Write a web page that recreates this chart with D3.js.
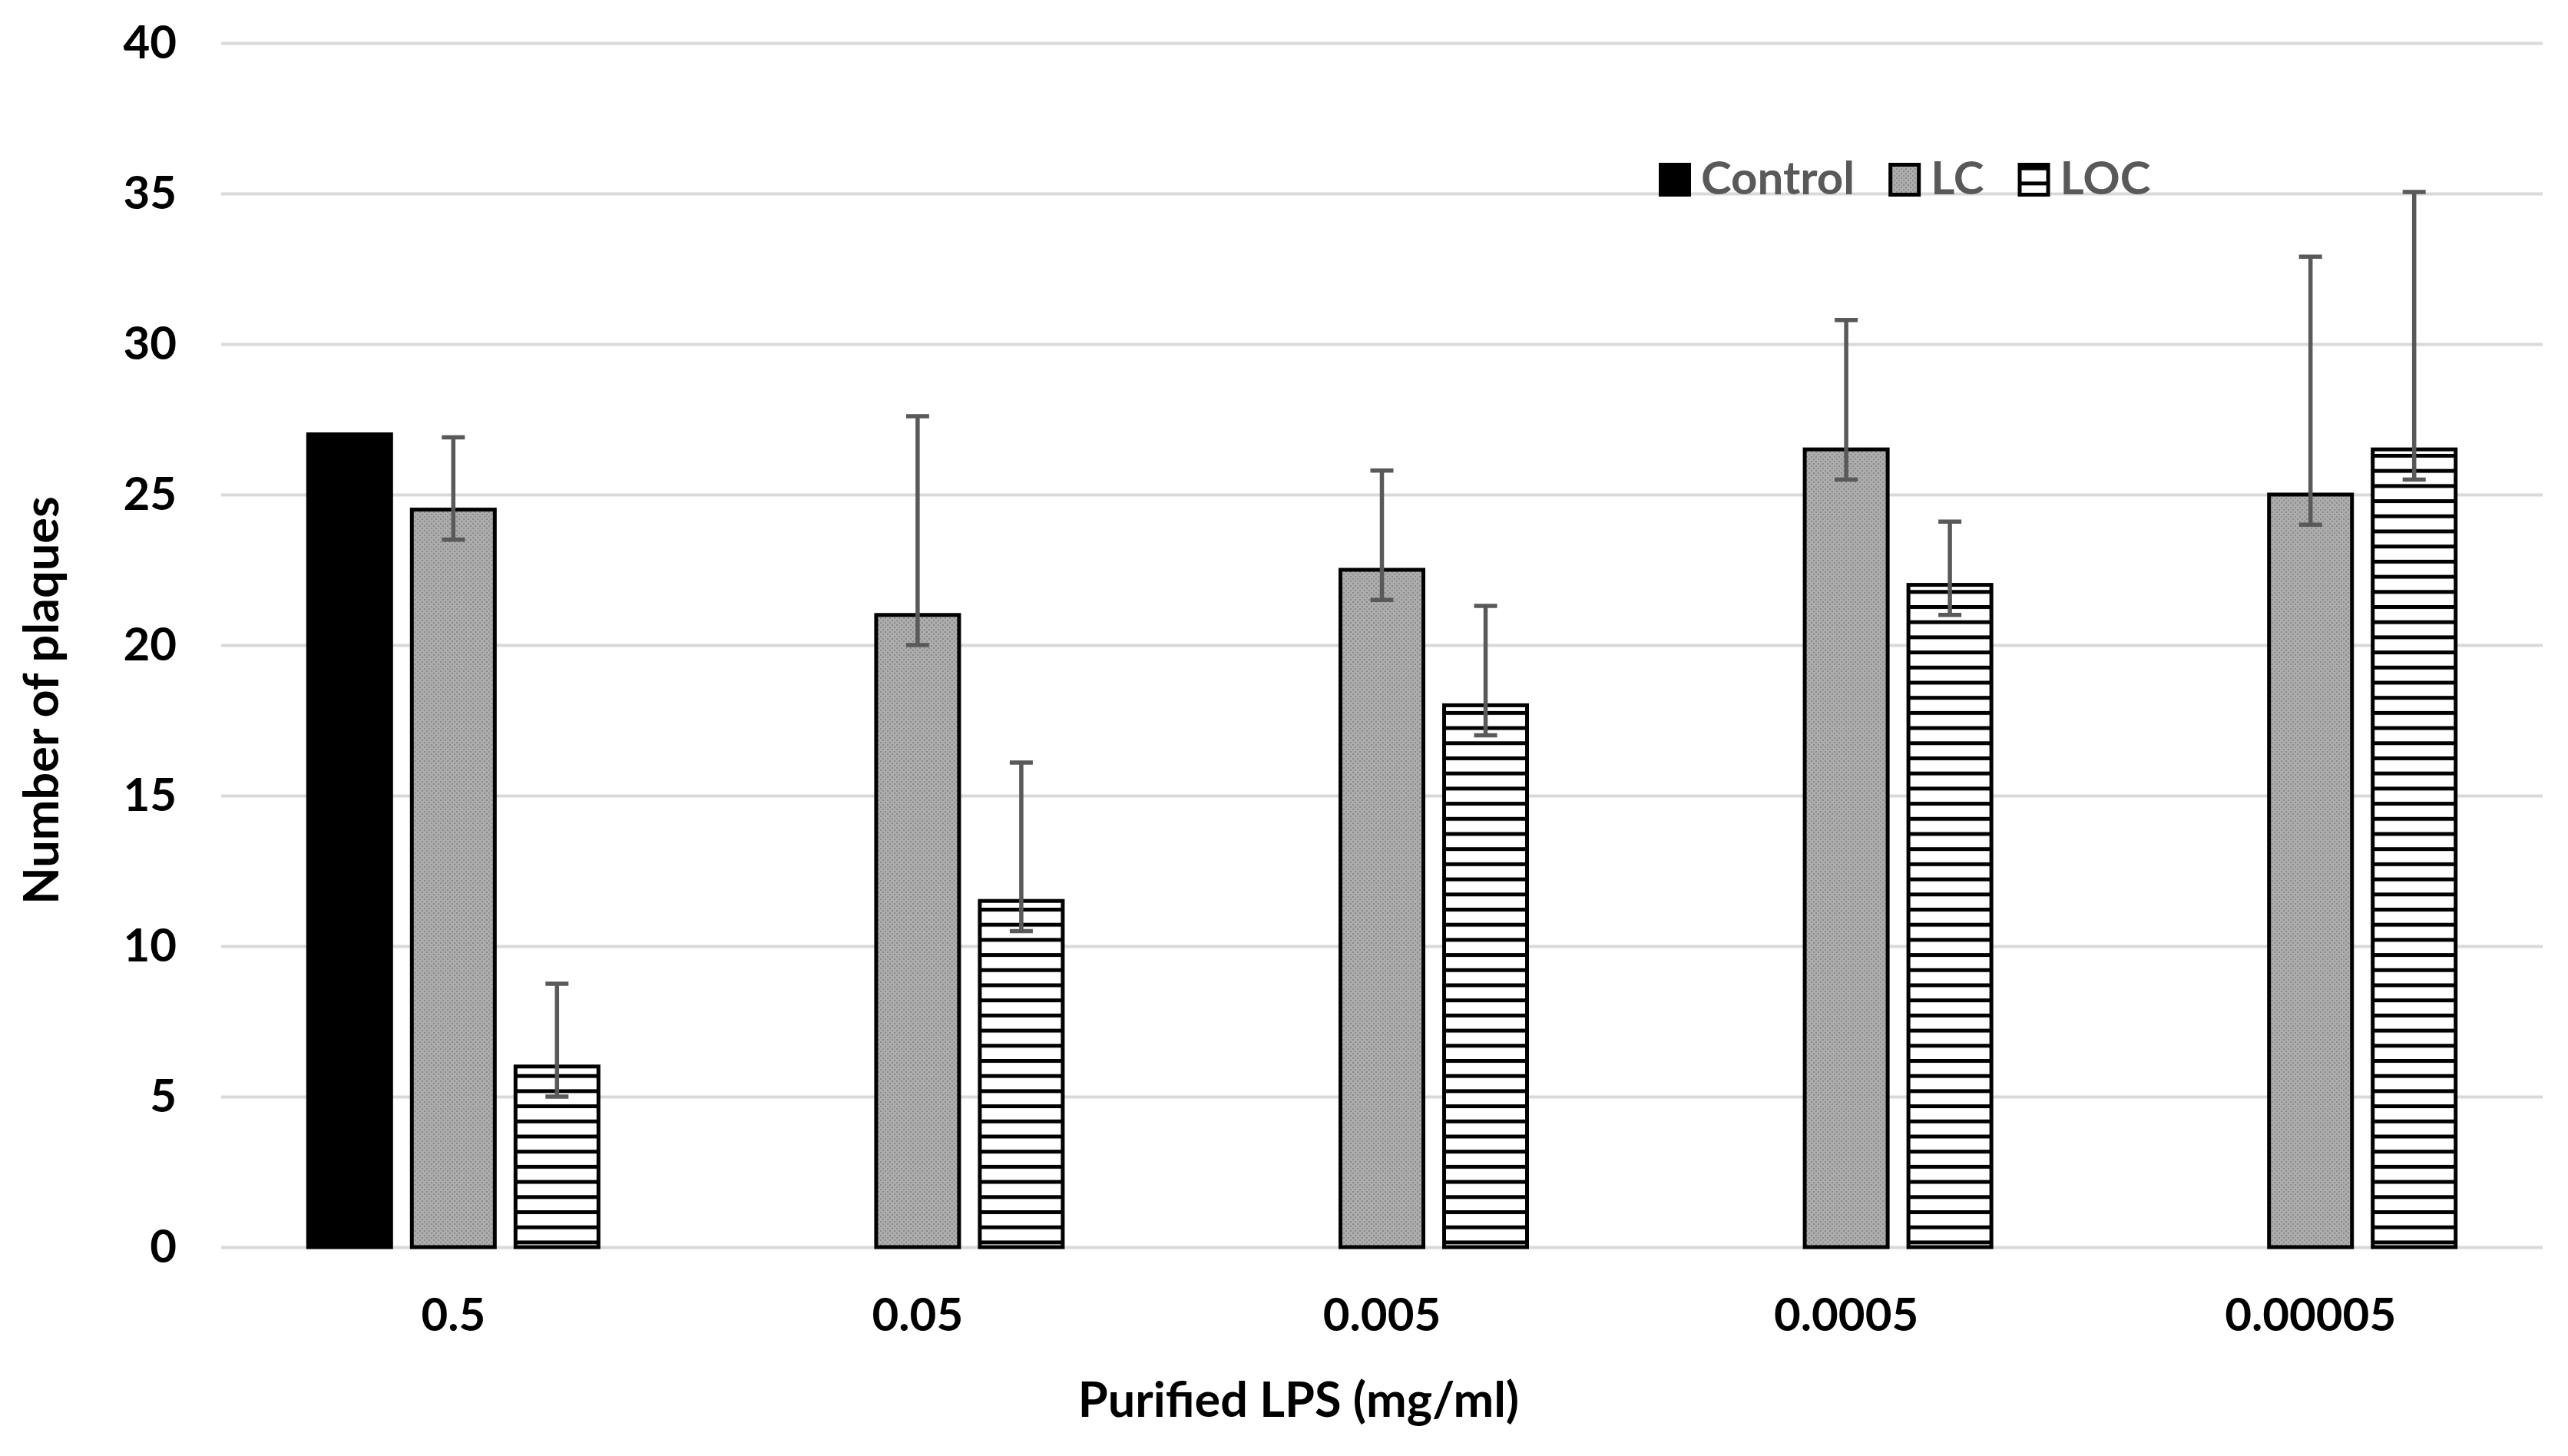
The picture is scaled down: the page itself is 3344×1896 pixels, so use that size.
<html>
	<head>
		<title>Plaques vs purified LPS</title>
		<meta charset="utf-8">
		<script src="https://cdn.jsdelivr.net/npm/d3@7"></script>
		<style>
			body { margin: 0; background: #ffffff; }
			text { font-family: Lato, "Open Sans", sans-serif; font-weight: bold; }
		</style>
	</head>
	<body id="body">
		<script>

			// model
			var CATEGORIES = ["0.5", "0.05", "0.005", "0.0005", "0.00005"];
			var SERIES = ["Control", "LC", "LOC"];
			var control_vals = [27, null, null, null, null];
			var lc_vals = [24.5, 21, 22.5, 26.5, 25];
			var loc_vals = [6, 11.5, 18, 22, 26.5];
			var lc_err_plus = [2.4, 6.6, 3.3, 4.3, 7.9];
			var lc_err_minus = [1, 1, 1, 1, 1];
			var loc_err_plus = [2.75, 4.6, 3.3, 2.1, 8.55];
			var loc_err_minus = [1, 1, 1, 1, 1];
			var Y_TICKS = [0, 5, 10, 15, 20, 25, 30, 35, 40];
			var X_TITLE = "Purified LPS (mg/ml)";
			var Y_TITLE = "Number of plaques";

			// view
			var W = 3344, H = 1896;
			var PLOT_L = 288, PLOT_R = 3311, PLOT_T = 56, PLOT_B = 1624;
			var FONT = 60;
			var TITLE_FONT = 63;
			var BAR_STROKE = 5;
			var GROUP_W = 378;

			var rows = [];
			CATEGORIES.forEach(function(c, i) {
				rows.push({cat: c, s: "Control", v: control_vals[i], up: 0, dn: 0});
				rows.push({cat: c, s: "LC", v: lc_vals[i], up: lc_err_plus[i], dn: lc_err_minus[i]});
				rows.push({cat: c, s: "LOC", v: loc_vals[i], up: loc_err_plus[i], dn: loc_err_minus[i]});
			});

			var svg = d3.select("body").append("svg")
				.attr("width", W)
				.attr("height", H);

			var defs = svg.append("defs");
			// grey speckle for LC
			var dots = defs.append("pattern").attr("id", "dots")
				.attr("patternUnits", "userSpaceOnUse")
				.attr("width", 6).attr("height", 6);
			dots.append("rect").attr("width", 6).attr("height", 6).attr("fill", "#acacac");
			dots.append("rect").attr("x", 0).attr("y", 0).attr("width", 2).attr("height", 2).attr("fill", "#8e8e8e");
			dots.append("rect").attr("x", 3).attr("y", 3).attr("width", 2).attr("height", 2).attr("fill", "#8e8e8e");
			// horizontal lines for LOC
			var stripes = defs.append("pattern").attr("id", "stripes")
				.attr("patternUnits", "userSpaceOnUse")
				.attr("width", 20).attr("height", 19.7);
			stripes.append("rect").attr("width", 20).attr("height", 19.7).attr("fill", "#ffffff");
			stripes.append("rect").attr("y", 0).attr("width", 20).attr("height", 5).attr("fill", "#000000");

			var FILLS = {"Control": "#000000", "LC": "url(#dots)", "LOC": "url(#stripes)"};

			var x0 = d3.scaleBand().domain(CATEGORIES).range([PLOT_L, PLOT_R]);
			var x1 = d3.scaleBand().domain(SERIES).range([0, GROUP_W]).paddingInner(0.2);
			var y = d3.scaleLinear().domain([0, 40]).range([PLOT_B, PLOT_T]);
			var group_off = (x0.bandwidth() - GROUP_W) / 2;

			function bar_x(d) { return x0(d.cat) + group_off + x1(d.s); }

			// grid + y labels
			var yAxis = svg.append("g")
				.attr("transform", "translate(" + PLOT_L + ",0)")
				.call(d3.axisLeft(y).tickValues(Y_TICKS).tickSize(-(PLOT_R - PLOT_L)).tickPadding(58));
			yAxis.select(".domain").remove();
			yAxis.selectAll("line").attr("stroke", "#d9d9d9").attr("stroke-width", 4);
			yAxis.selectAll("text").attr("font-size", FONT).attr("fill", "#000000")
				.style("font-family", "Lato, sans-serif");

			// x labels
			var xAxis = svg.append("g")
				.attr("transform", "translate(0," + PLOT_B + ")")
				.call(d3.axisBottom(x0).tickSize(0).tickPadding(66));
			xAxis.select(".domain").remove();
			xAxis.selectAll("text").attr("font-size", FONT).attr("fill", "#000000")
				.style("font-family", "Lato, sans-serif");

			// bars
			svg.append("g").selectAll("rect")
				.data(rows.filter(function(d) { return d.v != null; }))
				.enter()
				.append("rect")
				.attr("x", bar_x)
				.attr("y", function(d) { return y(d.v); })
				.attr("width", x1.bandwidth())
				.attr("height", function(d) { return y(0) - y(d.v); })
				.attr("fill", function(d) { return FILLS[d.s]; })
				.attr("stroke", "#000000")
				.attr("stroke-width", BAR_STROKE);

			// error bars
			var CAP = 15;
			svg.append("g").selectAll("path")
				.data(rows.filter(function(d) { return d.v != null && (d.up > 0 || d.dn > 0); }))
				.enter()
				.append("path")
				.attr("d", function(d) {
					var cx = bar_x(d) + x1.bandwidth() / 2;
					var top = y(d.v + d.up), bot = y(d.v - d.dn);
					return "M" + cx + "," + top + "V" + bot +
						"M" + (cx - CAP) + "," + top + "H" + (cx + CAP) +
						"M" + (cx - CAP) + "," + bot + "H" + (cx + CAP);
				})
				.attr("fill", "none")
				.attr("stroke", "#595959")
				.attr("stroke-width", 5.5);

			// titles
			svg.append("text")
				.attr("x", 1691)
				.attr("y", 1845)
				.attr("text-anchor", "middle")
				.attr("font-size", TITLE_FONT)
				.text(X_TITLE);
			svg.append("text")
				.attr("transform", "translate(53,912) rotate(-90)")
				.attr("text-anchor", "middle")
				.attr("dy", "0.36em")
				.attr("font-size", TITLE_FONT)
				.text(Y_TITLE);

			// legend
			var lx = 2160;
			SERIES.forEach(function(s) {
				svg.append("rect")
					.attr("x", lx + (s == "Control" ? 0 : 2.5))
					.attr("y", 212 + (s == "Control" ? 0 : 2.5))
					.attr("width", s == "Control" ? 42 : 37)
					.attr("height", s == "Control" ? 44 : 39)
					.attr("fill", FILLS[s])
					.attr("stroke", s == "Control" ? "none" : "#000000")
					.attr("stroke-width", BAR_STROKE);
				var t = svg.append("text")
					.attr("x", lx + 55)
					.attr("y", 253)
					.attr("font-size", FONT)
					.attr("fill", "#595959")
					.text(s);
				lx += 55 + t.node().getComputedTextLength() + 44;
			});

		</script>
	</body>
</html>
